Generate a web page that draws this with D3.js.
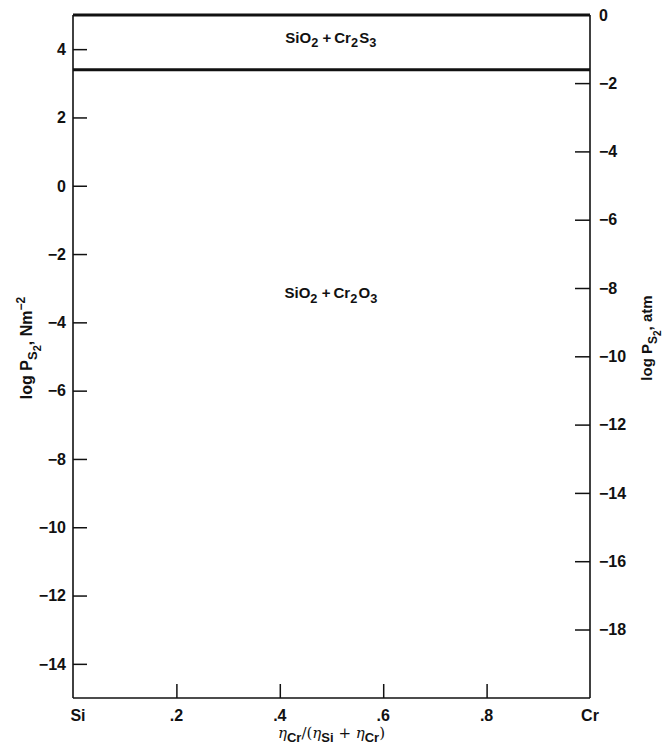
<!DOCTYPE html>
<html>
<head>
<meta charset="utf-8">
<script src="https://cdn.jsdelivr.net/npm/d3@7"></script>
<style>
  html, body { margin: 0; padding: 0; background: #fff; }
  svg { display: block; }
  text { font-family: "Liberation Sans", Arial, sans-serif; fill: #111; }
</style>
</head>
<body>
<svg id="chart" width="668" height="748"></svg>
<script>
// ---- data ----
const xTicks = [0, 0.2, 0.4, 0.6, 0.8, 1];
const xTickLabels = ["Si", ".2", ".4", ".6", ".8", "Cr"];
const leftTicks = [4, 2, 0, -2, -4, -6, -8, -10, -12, -14];
const rightTicks = [0, -2, -4, -6, -8, -10, -12, -14, -16, -18];
const leftDomain = [-15, 5];           // log P_S2, N m^-2
const atmOffset = Math.log10(101325);  // N m^-2 per atm
const boundaryLogP = 3.4;              // SiO2+Cr2O3 / SiO2+Cr2S3 boundary (N m^-2)
const regionNames = ["SiO2+Cr2S3", "SiO2+Cr2O3"];
const regionX = [0.5, 0.5];
const regionLogP = [4.27, -3.2];

// ---- layout ----
const svg = d3.select("#chart");
const W = 668, H = 748;
const m = { left: 73, right: 78, top: 15, bottom: 50 };
const x = d3.scaleLinear().domain([0, 1]).range([m.left, W - m.right]);
const y = d3.scaleLinear().domain(leftDomain).range([H - m.bottom, m.top]);
const yR = d3.scaleLinear().domain([leftDomain[0] - atmOffset, leftDomain[1] - atmOffset]).range([H - m.bottom, m.top]);

const tickFont = "bold 16px 'Liberation Sans', Arial, sans-serif";

// frame lines
const g = svg.append("g");
g.append("line").attr("x1", x(0)).attr("x2", x(1)).attr("y1", y(leftDomain[1])).attr("y2", y(leftDomain[1]))
  .attr("stroke", "#111").attr("stroke-width", 3);
g.append("line").attr("x1", x(0)).attr("x2", x(1)).attr("y1", y(leftDomain[0])).attr("y2", y(leftDomain[0]))
  .attr("stroke", "#111").attr("stroke-width", 1.6);
g.append("line").attr("x1", x(0)).attr("x2", x(0)).attr("y1", y(leftDomain[0])).attr("y2", y(leftDomain[1]))
  .attr("stroke", "#111").attr("stroke-width", 1.6);
g.append("line").attr("x1", x(1)).attr("x2", x(1)).attr("y1", y(leftDomain[0])).attr("y2", y(leftDomain[1]))
  .attr("stroke", "#111").attr("stroke-width", 1.6);

// boundary line
g.append("line").attr("x1", x(0)).attr("x2", x(1)).attr("y1", y(boundaryLogP)).attr("y2", y(boundaryLogP))
  .attr("stroke", "#111").attr("stroke-width", 3);

// left axis (ticks inward)
const leftAxis = d3.axisRight(y).tickValues(leftTicks).tickSize(14).tickFormat(() => "");
const la = svg.append("g").attr("transform", `translate(${x(0)},0)`).call(leftAxis);
la.select(".domain").remove();
la.selectAll("line").attr("stroke", "#111").attr("stroke-width", 1.5);
svg.append("g").selectAll("text").data(leftTicks).join("text")
  .attr("x", x(0) - 7).attr("y", d => y(d)).attr("dy", "0.36em")
  .attr("text-anchor", "end").style("font", tickFont)
  .text(d => d < 0 ? "\u2212" + Math.abs(d) : d);

// right axis (ticks inward)
const rightAxis = d3.axisLeft(yR).tickValues(rightTicks.filter(d => yR(d) > m.top + 2)).tickSize(15).tickFormat(() => "");
const ra = svg.append("g").attr("transform", `translate(${x(1)},0)`).call(rightAxis);
ra.select(".domain").remove();
ra.selectAll("line").attr("stroke", "#111").attr("stroke-width", 1.5);
svg.append("g").selectAll("text").data(rightTicks).join("text")
  .attr("x", x(1) + 9).attr("y", d => yR(d)).attr("dy", "0.36em")
  .attr("text-anchor", "start").style("font", tickFont)
  .text(d => d < 0 ? "\u2212" + Math.abs(d) : d);

// bottom axis (ticks inward)
const bottomAxis = d3.axisTop(x).tickValues(xTicks.slice(1, -1)).tickSize(14).tickFormat(() => "");
const ba = svg.append("g").attr("transform", `translate(0,${y(leftDomain[0])})`).call(bottomAxis);
ba.select(".domain").remove();
ba.selectAll("line").attr("stroke", "#111").attr("stroke-width", 1.5);
svg.append("g").selectAll("text").data(xTicks).join("text")
  .attr("x", d => x(d) + (d === 0 ? 5 : 0)).attr("y", y(leftDomain[0]) + 17).attr("dy", "0.36em")
  .attr("text-anchor", "middle").style("font", tickFont)
  .text((d, i) => xTickLabels[i]);

// helper for chemical formulas with subscripts
function formula(sel, str, fs) {
  const parts = str.split("+");
  parts.forEach((p, pi) => {
    if (pi > 0) sel.append("tspan").text("\u2009+\u2009");
    const tokens = p.match(/[A-Za-z]+|\d+/g);
    tokens.forEach(t => {
      if (/^\d+$/.test(t)) {
        sel.append("tspan").attr("dy", fs * 0.3).style("font-size", (fs * 0.85) + "px").text(t);
        sel.append("tspan").attr("dy", -fs * 0.3).text("\u200A");
      } else {
        sel.append("tspan").text(t);
      }
    });
  });
}
regionNames.forEach((name, i) => {
  const t = svg.append("text")
    .attr("x", x(regionX[i])).attr("y", y(regionLogP[i])).attr("dy", "0.2em")
    .attr("text-anchor", "middle")
    .style("font", "bold 15px 'Liberation Sans', Arial, sans-serif");
  formula(t, name, 15);
});

// left title
const lt = svg.append("text")
  .attr("transform", `translate(32,348) rotate(-90)`)
  .attr("text-anchor", "middle")
  .style("font", "bold 16px 'Liberation Sans', Arial, sans-serif");
lt.append("tspan").text("log P");
lt.append("tspan").attr("dy", 5).style("font-size", "13px").text("S");
lt.append("tspan").attr("dy", 4).style("font-size", "11px").text("2");
lt.append("tspan").attr("dy", -9).text(", Nm");
lt.append("tspan").attr("dy", -7).style("font-size", "12px").text("\u22122");

// right title
const rt = svg.append("text")
  .attr("transform", `translate(652,338) rotate(-90)`)
  .attr("text-anchor", "middle")
  .style("font", "bold 15px 'Liberation Sans', Arial, sans-serif");
rt.append("tspan").text("log P");
rt.append("tspan").attr("dy", 5).style("font-size", "12px").text("S");
rt.append("tspan").attr("dy", 4).style("font-size", "10px").text("2");
rt.append("tspan").attr("dy", -9).text(", atm");

// bottom title
const bt = svg.append("text")
  .attr("x", x(0.5)).attr("y", 738)
  .attr("text-anchor", "middle")
  .style("font", "15px 'DejaVu Serif', serif");
bt.append("tspan").style("font-style", "italic").text("\u03B7");
bt.append("tspan").attr("dy", 4).style("font", "bold 13px 'Liberation Sans', Arial, sans-serif").text("Cr");
bt.append("tspan").attr("dy", -4).text("/(");
bt.append("tspan").style("font-style", "italic").text("\u03B7");
bt.append("tspan").attr("dy", 4).style("font", "bold 13px 'Liberation Sans', Arial, sans-serif").text("Si");
bt.append("tspan").attr("dy", -4).text(" + ");
bt.append("tspan").style("font-style", "italic").text("\u03B7");
bt.append("tspan").attr("dy", 4).style("font", "bold 13px 'Liberation Sans', Arial, sans-serif").text("Cr");
bt.append("tspan").attr("dy", -4).text(")");
</script>
</body>
</html>
